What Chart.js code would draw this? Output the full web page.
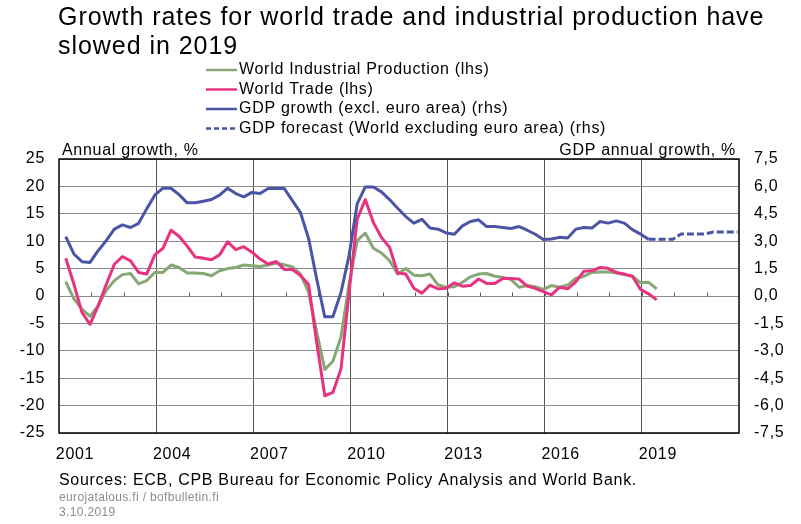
<!DOCTYPE html>
<html>
<head>
<meta charset="utf-8">
<script src="https://cdn.jsdelivr.net/npm/chart.js@4.4.0/dist/chart.umd.min.js"></script>
<style>
  html, body { margin: 0; padding: 0; background: #fff; }
  canvas { display: block; }
</style>
</head>
<body>
<canvas id="chart" width="801" height="524"></canvas>
<script>
// Quarterly data, first quarter = 2001 Q1
const firstYear = 2001;
const industrialProduction = [2.6, -0.5, -2.4, -3.7, -1.8, 1.0, 2.8, 3.9, 4.1, 2.2, 2.8, 4.3, 4.3, 5.65, 5.2, 4.2,
  4.2, 4.1, 3.7, 4.6, 5.0, 5.2, 5.65, 5.5, 5.4, 5.65, 6.0, 5.7, 5.3, 4.0, 0.7, -6.6,
  -13.4, -11.9, -7.5, 2.2, 10.1, 11.5, 8.7, 7.85, 6.45, 4.0, 5.0, 3.8, 3.7, 4.0, 2.0, 1.6,
  1.7, 2.5, 3.5, 4.0, 4.1, 3.6, 3.4, 3.0, 1.6, 1.9, 1.7, 1.2, 1.9, 1.6, 2.0, 3.2,
  3.6, 4.3, 4.4, 4.4, 4.2, 3.9, 3.6, 2.4, 2.5, 1.3];
const worldTrade = [6.9, 2.2, -3.0, -5.2, -1.8, 2.1, 5.8, 7.2, 6.4, 4.3, 4.0, 7.5, 8.7, 12.0, 10.9, 9.1,
  7.1, 6.9, 6.6, 7.5, 9.9, 8.45, 9.0, 8.0, 6.75, 5.85, 6.3, 4.85, 4.85, 3.75, 2.1, -8.5,
  -18.2, -17.6, -13.3, 0.7, 14.0, 17.6, 13.4, 10.7, 8.9, 4.2, 4.0, 1.4, 0.5, 2.0, 1.3, 1.4,
  2.4, 1.8, 1.9, 3.1, 2.3, 2.3, 3.2, 3.2, 3.1, 1.8, 1.4, 0.8, 0.2, 1.6, 1.3, 2.6,
  4.5, 4.6, 5.2, 5.05, 4.3, 4.0, 3.6, 1.2, 0.4, -0.7];
const gdpGrowth = [3.25, 2.3, 1.88, 1.84, 2.48, 3.03, 3.66, 3.89, 3.75, 3.98, 4.77, 5.52, 5.9, 5.9, 5.55, 5.1,
  5.1, 5.19, 5.28, 5.52, 5.9, 5.61, 5.43, 5.67, 5.61, 5.88, 5.88, 5.88, 5.22, 4.56, 3.15, 0.93,
  -1.14, -1.14, 0.2, 2.22, 5.04, 5.97, 5.97, 5.7, 5.28, 4.8, 4.35, 3.99, 4.2, 3.72, 3.66, 3.45,
  3.38, 3.84, 4.08, 4.17, 3.8, 3.8, 3.75, 3.7, 3.8, 3.6, 3.38, 3.09, 3.12, 3.21, 3.18, 3.66,
  3.75, 3.72, 4.08, 3.99, 4.11, 3.99, 3.63, 3.39, 3.1];
// Annual forecast (rhs)
const forecastYears = [2019, 2020, 2021];
const gdpForecast = [3.1, 3.4, 3.5];

const yearLabels = [2001, 2004, 2007, 2010, 2013, 2016, 2019];
const seriesLabels = [
  "World Industrial Production (lhs)",
  "World Trade (lhs)",
  "GDP growth (excl. euro area) (rhs)",
  "GDP forecast (World excluding euro area) (rhs)"
];

// quarter k -> position of the quarter's last month on the year axis
function quarterX(k) {
  return firstYear + Math.floor(k / 4) + ((k % 4) * 3 + 2.5) / 12;
}
function toPoints(values, start) {
  return values.map((v, i) => ({ x: quarterX(start + i), y: v }));
}
const forecastPoints = [];
forecastYears.forEach((yr, i) => {
  for (let q = 0; q < 4; q++) forecastPoints.push({ x: quarterX((yr - firstYear) * 4 + q), y: gdpForecast[i] });
});

const FONT = "'Liberation Sans', Arial, sans-serif";
Chart.defaults.font.family = FONT;
Chart.defaults.font.size = 16;
Chart.defaults.color = "#000";

const green = "#87a876", pink = "#e8327f", blue = "#4b54a5";

const decorations = {
  id: "decorations",
  beforeDraw(chart) {
    // the reference text runs a bit wider than Liberation Sans
    chart.ctx.letterSpacing = "0.7px";
  },
  beforeDatasetsDraw(chart) {
    const { ctx, scales } = chart;
    const y0 = Math.round(scales.y.getPixelForValue(0)) + 0.5;
    ctx.save();
    ctx.strokeStyle = "#555";
    ctx.lineWidth = 1;
    for (let yr = 2002; yr < 2022; yr++) {
      const x = Math.round(scales.x.getPixelForValue(yr)) + 0.5;
      ctx.beginPath();
      ctx.moveTo(x, y0);
      ctx.lineTo(x, y0 - 4);
      ctx.stroke();
    }
    ctx.restore();
  },
  afterDraw(chart) {
    const { ctx, chartArea: a } = chart;
    ctx.save();
    // frame
    ctx.strokeStyle = "#000";
    ctx.lineWidth = 1.5;
    ctx.strokeRect(a.left, a.top, a.right - a.left, a.bottom - a.top);

    // title
    ctx.fillStyle = "#000";
    ctx.textBaseline = "alphabetic";
    ctx.textAlign = "left";
    ctx.font = "25px " + FONT;
    ctx.letterSpacing = "0.95px";
    ctx.fillText("Growth rates for world trade and industrial production have", 58, 25);
    ctx.fillText("slowed in 2019", 58, 54);

    // legend
    ctx.font = "16px " + FONT;
    ctx.letterSpacing = "0.7px";
    ctx.textBaseline = "middle";
    chart.data.datasets.forEach((ds, i) => {
      const y = 70 + i * 19.5;
      ctx.strokeStyle = ds.borderColor;
      ctx.lineWidth = 2.5;
      ctx.setLineDash(ds.borderDash && ds.borderDash.length ? [5, 3] : []);
      ctx.beginPath();
      ctx.moveTo(206, y);
      ctx.lineTo(237, y);
      ctx.stroke();
      ctx.setLineDash([]);
      ctx.fillText(ds.label, 239, y);
    });

    // axis titles
    ctx.textBaseline = "alphabetic";
    ctx.fillText("Annual growth, %", 62, 155);
    ctx.textAlign = "right";
    ctx.fillText("GDP annual growth, %", 736, 155);

    // footer
    ctx.textAlign = "left";
    ctx.fillText("Sources: ECB, CPB Bureau for Economic Policy Analysis and World Bank.", 59, 485);
    ctx.fillStyle = "#8c8c8c";
    ctx.font = "12px " + FONT;
    ctx.letterSpacing = "0.35px";
    ctx.fillText("eurojatalous.fi / bofbulletin.fi", 59, 501);
    ctx.fillText("3.10.2019", 59, 516);
    ctx.restore();
  }
};

new Chart(document.getElementById("chart"), {
  type: "line",
  data: {
    datasets: [
      { label: seriesLabels[0], data: toPoints(industrialProduction, 0), borderColor: green, yAxisID: "y", order: 3 },
      { label: seriesLabels[1], data: toPoints(worldTrade, 0), borderColor: pink, yAxisID: "y", order: 2 },
      { label: seriesLabels[2], data: toPoints(gdpGrowth, 0), borderColor: blue, yAxisID: "y1", order: 1 },
      { label: seriesLabels[3], data: forecastPoints, borderColor: blue, borderDash: [7, 3], yAxisID: "y1", order: 0 }
    ]
  },
  options: {
    responsive: false,
    animation: false,
    devicePixelRatio: 1,
    layout: { padding: { top: 159, left: 0, right: 0, bottom: 0 } },
    elements: {
      line: { borderWidth: 3, tension: 0, fill: false, borderCapStyle: "butt", borderJoinStyle: "round" },
      point: { radius: 0, hoverRadius: 0 }
    },
    plugins: { legend: { display: false }, tooltip: { enabled: false } },
    scales: {
      x: {
        type: "linear",
        min: 2001,
        max: 2022,
        afterFit(s) { s.height = 91; },
        border: { display: false },
        grid: {
          drawTicks: false,
          color: c => (c.tick && yearLabels.includes(c.tick.value) && c.tick.value !== 2001) ? "#555" : "rgba(0,0,0,0)"
        },
        ticks: {
          stepSize: 1,
          autoSkip: false,
          maxRotation: 0,
          labelOffset: 16,
          padding: 12,
          callback: v => yearLabels.includes(v) ? String(v) : ""
        }
      },
      y: {
        position: "left",
        min: -25,
        max: 25,
        afterFit(s) { s.width = 59; },
        border: { display: false },
        grid: { drawTicks: false, color: "#8c8c8c" },
        ticks: { stepSize: 5, padding: 14 }
      },
      y1: {
        position: "right",
        min: -7.5,
        max: 7.5,
        afterFit(s) { s.width = 62; },
        border: { display: false },
        grid: { display: false, drawTicks: false },
        ticks: { stepSize: 1.5, padding: 15, callback: v => v.toFixed(1).replace(".", ",") }
      }
    }
  },
  plugins: [decorations]
});
</script>
</body>
</html>
